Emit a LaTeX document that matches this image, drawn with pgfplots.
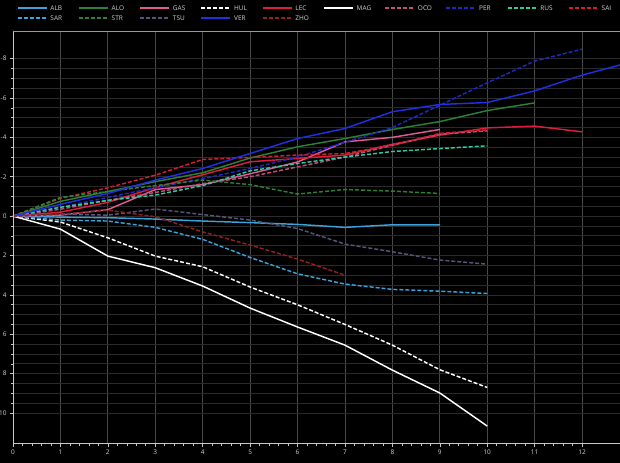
\documentclass[border=0pt]{standalone}
\usepackage{pgfplots}
\pgfplotsset{compat=1.18}
\usepackage{fontspec}
\setmainfont{Open Sans}

\definecolor{bgc}{HTML}{000000}
\definecolor{gridx}{HTML}{484848}
\definecolor{gridy}{HTML}{2B2B2B}
\definecolor{axisc}{HTML}{C8C8C8}
\definecolor{labc}{HTML}{D2D2D2}
\definecolor{cALB}{HTML}{3BA3D9}
\definecolor{cALO}{HTML}{2E8035}
\definecolor{cGAS}{HTML}{E05A96}
\definecolor{cLEC}{HTML}{DC1E3C}
\definecolor{cOCO}{HTML}{C0507A}
\definecolor{cPER}{HTML}{1E28C8}
\definecolor{cRUS}{HTML}{30C8A0}
\definecolor{cSAI}{HTML}{D02030}
\definecolor{cTSU}{HTML}{55557D}
\definecolor{cVER}{HTML}{2030E0}
\definecolor{cZHO}{HTML}{902222}

\begin{document}
\begin{tikzpicture}
\path[use as bounding box, fill=bgc] (0,0) rectangle (620bp,463bp);
\begin{axis}[
  at={(13bp,20bp)}, anchor=south west,
  width=607bp, height=412bp, scale only axis,
  xmin=0, xmax=12.8, ymin=-9.4, ymax=11.52, y dir=reverse,
  xtick={0,1,...,12}, minor x tick num=4,
  ytick={-8,-6,...,10}, minor y tick num=3,
  xmajorgrids, ymajorgrids, yminorgrids,
  x grid style={draw=gridx, line width=0.8bp},
  y grid style={draw=gridy, line width=0.7bp},
  axis line style={draw=none},
  tick align=outside, xtick pos=left, ytick pos=left,
  major tick length=3.5bp, minor tick length=2.5bp,
  tick style={draw=axisc, line width=0.6bp},
  ticklabel style={font=\fontsize{6.5}{7}\selectfont, text=labc},
  yticklabel style={xshift=0.5bp},
  /pgf/number format/assume math mode=true,
  every axis plot/.append style={line width=1.45bp},
  legend columns=10,
  legend cell align=left,
  legend image code/.code={\draw[#1] (0bp,0bp) -- (29bp,0bp);},
  legend style={at={(0.0066,1.063)}, anchor=north west, draw=none, fill=none,
    inner sep=0pt, outer sep=0pt, row sep=4bp, column sep=3bp,
    font=\fontsize{6.5}{7}\selectfont, text=labc,
    nodes={inner sep=0pt, text height=5bp, text depth=1bp},
    /tikz/every even column/.append style={column sep=3bp},
    /tikz/every even column/.append style={text width=24.8bp}},
]
\addplot[cALB] coordinates {(0,0) (1,0.05) (2,0.08) (3,0.15) (4,0.25) (5,0.33) (6,0.42) (7,0.57) (8,0.44) (9,0.44)};
\addlegendentry{ALB}
\addplot[cALO] coordinates {(0,0) (1,-0.75) (2,-1.25) (3,-1.75) (4,-2.2) (5,-2.95) (6,-3.52) (7,-3.94) (8,-4.4) (9,-4.8) (10,-5.36) (11,-5.75)};
\addlegendentry{ALO}
\addplot[cGAS] coordinates {(0,0) (1,-0.05) (2,-0.33) (3,-1.35) (4,-1.6) (5,-2.15) (6,-2.75) (7,-3.77) (8,-4.0) (9,-4.4)};
\addlegendentry{GAS}
\addplot[white, dash pattern=on 4bp off 2bp] coordinates {(0,0) (1,0.3) (2,1.1) (3,2.03) (4,2.57) (5,3.6) (6,4.5) (7,5.5) (8,6.55) (9,7.8) (10,8.7)};
\addlegendentry{HUL}
\addplot[cLEC] coordinates {(0,0) (1,-0.2) (2,-0.7) (3,-1.45) (4,-2.1) (5,-2.76) (6,-2.93) (7,-3.1) (8,-3.65) (9,-4.11) (10,-4.48) (11,-4.57) (12,-4.28)};
\addlegendentry{LEC}
\addplot[white] coordinates {(0,0) (1,0.66) (2,2.03) (3,2.62) (4,3.55) (5,4.67) (6,5.63) (7,6.55) (8,7.82) (9,8.98) (10,10.66)};
\addlegendentry{MAG}
\addplot[cOCO, dash pattern=on 4bp off 2bp] coordinates {(0,0) (1,-0.35) (2,-0.8) (3,-1.2) (4,-1.65) (5,-2.0) (6,-2.5) (7,-3.0) (8,-3.6) (9,-4.16) (10,-4.33)};
\addlegendentry{OCO}
\addplot[cPER, dash pattern=on 4bp off 2bp] coordinates {(0,0) (1,-0.45) (2,-0.95) (3,-1.45) (4,-1.9) (5,-2.42) (6,-3.0) (7,-3.75) (8,-4.5) (9,-5.63) (10,-6.77) (11,-7.87) (12,-8.48)};
\addlegendentry{PER}
\addplot[cRUS, dash pattern=on 4bp off 2bp] coordinates {(0,0) (1,-0.45) (2,-0.8) (3,-1.07) (4,-1.55) (5,-2.3) (6,-2.67) (7,-3.0) (8,-3.28) (9,-3.43) (10,-3.57)};
\addlegendentry{RUS}
\addplot[cSAI, dash pattern=on 4bp off 2bp] coordinates {(0,0) (1,-0.9) (2,-1.44) (3,-2.08) (4,-2.88) (5,-2.98) (6,-3.1) (7,-3.18) (8,-3.6) (9,-4.2) (10,-4.38)};
\addlegendentry{SAI}
\addplot[cALB, dash pattern=on 4bp off 2bp] coordinates {(0,0) (1,0.2) (2,0.25) (3,0.57) (4,1.18) (5,2.1) (6,2.93) (7,3.45) (8,3.72) (9,3.81) (10,3.93)};
\addlegendentry{SAR}
\addplot[cALO, dash pattern=on 4bp off 2bp] coordinates {(0,0) (1,-0.95) (2,-1.25) (3,-1.55) (4,-1.83) (5,-1.6) (6,-1.12) (7,-1.35) (8,-1.27) (9,-1.15)};
\addlegendentry{STR}
\addplot[cTSU, dash pattern=on 4bp off 2bp] coordinates {(0,0) (1,-0.1) (2,-0.05) (3,-0.36) (4,-0.08) (5,0.2) (6,0.63) (7,1.42) (8,1.81) (9,2.23) (10,2.44)};
\addlegendentry{TSU}
\addplot[cVER] coordinates {(0,0) (1,-0.6) (2,-1.15) (3,-1.83) (4,-2.42) (5,-3.18) (6,-3.94) (7,-4.45) (8,-5.3) (9,-5.67) (10,-5.77) (11,-6.36) (12,-7.16) (13,-7.8)};
\addlegendentry{VER}
\addplot[cZHO, dash pattern=on 4bp off 2bp] coordinates {(0,0) (1,-0.1) (2,-0.3) (3,0.03) (4,0.8) (5,1.47) (6,2.18) (7,3.0)};
\addlegendentry{ZHO}
\end{axis}
\draw[axisc, line width=0.8bp] (13bp,20bp) -- (13bp,432bp);
\draw[axisc, line width=0.8bp] (13bp,20bp) -- (620bp,20bp);
\draw[gray!80, line width=0.8bp] (13bp,432bp) -- (620bp,432bp);
\end{tikzpicture}
\end{document}
